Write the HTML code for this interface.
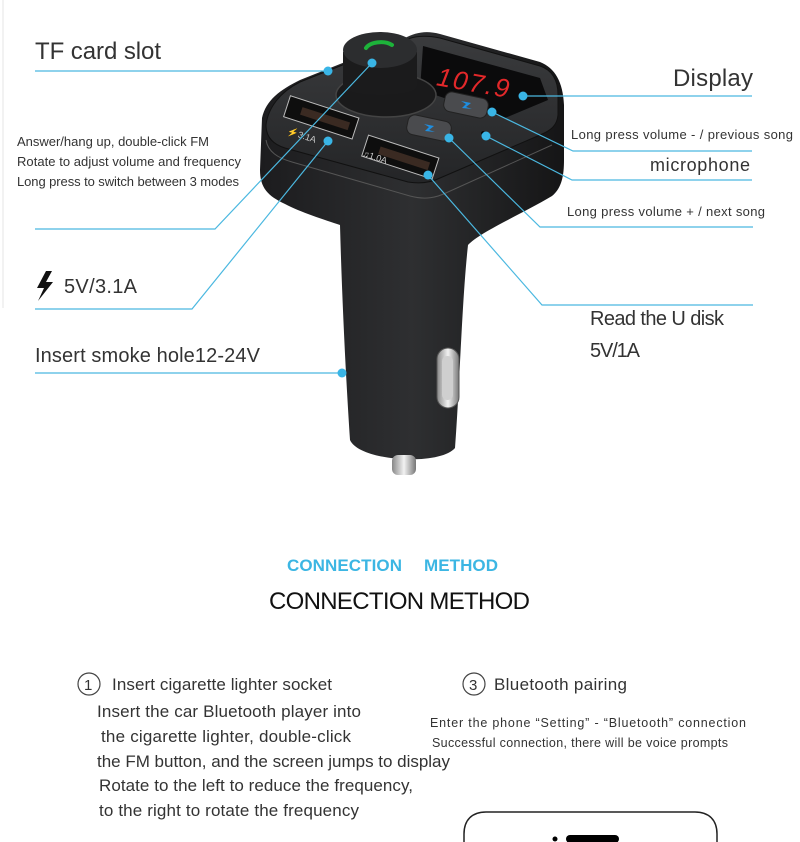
<!DOCTYPE html>
<html><head><meta charset="utf-8"><style>
html,body{margin:0;padding:0;background:#fff;width:800px;height:842px;overflow:hidden}
svg{display:block}
.t{font-family:"Liberation Sans",sans-serif;fill:#333}
</style></head><body>
<svg width="800" height="842" viewBox="0 0 800 842" xmlns="http://www.w3.org/2000/svg">
<defs>
<linearGradient id="bd" x1="0" y1="0" x2="1" y2="0">
<stop offset="0" stop-color="#1c1c1e"/><stop offset="0.5" stop-color="#2e2f31"/><stop offset="1" stop-color="#151516"/>
</linearGradient>
<linearGradient id="top" x1="0" y1="0" x2="0" y2="1">
<stop offset="0" stop-color="#3a3b3d"/><stop offset="1" stop-color="#242527"/>
</linearGradient>
<linearGradient id="pin" x1="0" y1="0" x2="1" y2="0">
<stop offset="0" stop-color="#888"/><stop offset="0.5" stop-color="#f2f2f2"/><stop offset="1" stop-color="#777"/>
</linearGradient>
</defs>
<line x1="3" y1="0" x2="3" y2="308" stroke="#e6e6e6" stroke-width="1"/>
<!-- body -->
<path d="M340 225 C342 300 346 380 350 440 C360 462 440 466 455 448 C460 380 462 300 468 245 C480 232 520 215 552 196 C562 188 564 175 564 160 L564 105 C563 82 555 68 540 62 L440 34 C425 30 415 33 405 38 L300 80 C280 90 266 100 262 118 L260 170 C260 188 268 196 285 204 C300 212 325 220 340 225 Z" fill="url(#bd)"/>
<!-- top surface -->
<path d="M300 82 L405 40 C415 36 425 35 440 38 L540 66 C552 70 558 80 558 95 L558 115 C557 125 552 130 540 135 L440 178 C430 183 420 184 408 182 L285 148 C272 144 266 136 266 125 C268 108 280 92 300 82 Z" fill="url(#top)" stroke="#111" stroke-width="1"/>
<!-- front face highlight edge -->
<path d="M266 140 C268 152 278 158 292 162 L410 196 C425 200 436 198 448 192 L552 145" fill="none" stroke="#555" stroke-width="1"/>
<!-- display -->
<path d="M423 46 L540 78 L548 100 L505 118 L420 90 Z" fill="#0b0b0c"/>
<text x="437" y="91" font-family="Liberation Sans" font-size="26" font-style="italic" fill="#e2282a" transform="rotate(10 470 80)" letter-spacing="2">107.9</text>
<!-- knob base ring -->
<ellipse cx="386" cy="95" rx="50" ry="22" fill="#1a1a1b" stroke="#444" stroke-width="1.5"/>
<!-- knob -->
<path d="M343 52 L343 86 C343 98 417 98 417 86 L417 52 Z" fill="#1b1b1c"/>
<ellipse cx="380" cy="50" rx="37" ry="18" fill="#2c2d2f"/>
<path d="M366 48 C370 42 384 40 392 45" stroke="#1db33a" stroke-width="4" fill="none" stroke-linecap="round"/>
<!-- buttons -->
<rect x="444" y="95" width="44" height="20" rx="7" fill="#4a4b4e" stroke="#222" transform="rotate(12 466 105)"/>
<path d="M461 101 L471 103 L466 107 L472 109 L462 108 L466 104 Z" fill="#1e8ee0"/>
<rect x="407" y="118" width="44" height="20" rx="7" fill="#4a4b4e" stroke="#222" transform="rotate(12 429 128)"/>
<path d="M424 124 L434 126 L429 130 L435 132 L425 131 L429 127 Z" fill="#1e8ee0"/>
<circle cx="483" cy="133" r="1.8" fill="#000"/>
<!-- usb ports -->
<g transform="rotate(18 320 118)"><rect x="285" y="106" width="72" height="22" fill="#0e0e0e" stroke="#bbb" stroke-width="1"/><rect x="300" y="113" width="50" height="8" fill="#3a2a22"/></g>
<g transform="rotate(18 400 158)"><rect x="363" y="146" width="74" height="22" fill="#0e0e0e" stroke="#bbb" stroke-width="1"/><rect x="378" y="153" width="52" height="8" fill="#3a2a22"/></g>
<text x="286" y="138" font-family="Liberation Sans" font-size="9" fill="#ccc" transform="rotate(18 300 138)">⚡3.1A</text>
<text x="360" y="162" font-family="Liberation Sans" font-size="9" fill="#ccc" transform="rotate(18 380 165)">♫1.0A</text>
<!-- side contact -->
<rect x="437" y="348" width="22" height="60" rx="11" fill="url(#pin)" stroke="#555"/>
<rect x="442" y="356" width="11" height="44" rx="5" fill="#cfcfcf"/>
<!-- tip pin -->
<rect x="392" y="455" width="24" height="20" rx="6" fill="url(#pin)"/>
<!-- connector lines -->
<g stroke="#4bb8e0" stroke-width="1.2" fill="none">
<polyline points="35,71 320,71 328,71"/>
<polyline points="35,229 215,229 372,63"/>
<polyline points="35,309 192,309 328,141"/>
<polyline points="35,373 342,373"/>
<polyline points="523,96 752,96"/>
<polyline points="492,112 573,151 752,151"/>
<polyline points="486,136 572,180 752,180"/>
<polyline points="449,138 540,227 753,227"/>
<polyline points="428,175 542,305 753,305"/>
</g>
<g fill="#39b5e6">
<circle cx="328" cy="71" r="4.5"/><circle cx="372" cy="63" r="4.5"/><circle cx="328" cy="141" r="4.5"/>
<circle cx="342" cy="373" r="4.5"/><circle cx="523" cy="96" r="4.5"/><circle cx="492" cy="112" r="4.5"/>
<circle cx="486" cy="136" r="4.5"/><circle cx="449" cy="138" r="4.5"/><circle cx="428" cy="175" r="4.5"/>
</g>
<!-- labels -->
<text class="t" x="35" y="59" font-size="24" textLength="126">TF card slot</text>
<text class="t" x="17" y="146" font-size="13" fill="#555" textLength="192">Answer/hang up, double-click FM</text>
<text class="t" x="17" y="166" font-size="13" fill="#555" textLength="224">Rotate to adjust volume and frequency</text>
<text class="t" x="17" y="186" font-size="13" fill="#555" textLength="222">Long press to switch between 3 modes</text>
<path d="M46 271 L37 288 L44 288 L38 301 L53 282 L46 282 L52 271 Z" fill="#111"/>
<text class="t" x="64" y="293" font-size="20" fill="#111" textLength="73">5V/3.1A</text>
<text class="t" x="35" y="362" font-size="20" textLength="225">Insert smoke hole12-24V</text>
<text class="t" x="673" y="86" font-size="24" textLength="80">Display</text>
<text class="t" x="571" y="139" font-size="13" fill="#444" textLength="222">Long press volume - / previous song</text>
<text class="t" x="650" y="171" font-size="18" textLength="100">microphone</text>
<text class="t" x="567" y="216" font-size="13" fill="#444" textLength="198">Long press volume + / next song</text>
<text class="t" x="590" y="325" font-size="20" textLength="134">Read the U disk</text>
<text class="t" x="590" y="357" font-size="20" textLength="50">5V/1A</text>
<!-- connection method -->
<text x="287" y="571" font-family="Liberation Sans" font-weight="bold" font-size="17" fill="#3cb6e3" textLength="115">CONNECTION</text>
<text x="424" y="571" font-family="Liberation Sans" font-weight="bold" font-size="17" fill="#3cb6e3" textLength="74">METHOD</text>
<text x="269" y="609" font-family="Liberation Sans" font-size="24" fill="#111" textLength="261">CONNECTION METHOD</text>
<circle cx="89" cy="684" r="11" fill="none" stroke="#444" stroke-width="1.2"/>
<text class="t" x="84" y="690" font-size="15">1</text>
<text class="t" x="112" y="690" font-size="17" textLength="220">Insert cigarette lighter socket</text>
<text class="t" x="97" y="717" font-size="17" textLength="264">Insert the car Bluetooth player into</text>
<text class="t" x="101" y="742" font-size="17" textLength="250">the cigarette lighter, double-click</text>
<text class="t" x="97" y="767" font-size="17" textLength="353">the FM button, and the screen jumps to display</text>
<text class="t" x="99" y="791" font-size="17" textLength="314">Rotate to the left to reduce the frequency,</text>
<text class="t" x="99" y="816" font-size="17" textLength="260">to the right to rotate the frequency</text>
<circle cx="474" cy="684" r="11" fill="none" stroke="#444" stroke-width="1.2"/>
<text class="t" x="469" y="690" font-size="15">3</text>
<text class="t" x="494" y="690" font-size="17" textLength="133">Bluetooth pairing</text>
<text class="t" x="430" y="727" font-size="12.5" fill="#444" textLength="316">Enter the phone “Setting” - “Bluetooth” connection</text>
<text class="t" x="432" y="747" font-size="12.5" fill="#444" textLength="296">Successful connection, there will be voice prompts</text>
<!-- phone -->
<path d="M464 850 L464 834 C464 820 472 812 486 812 L695 812 C709 812 717 820 717 834 L717 850" fill="none" stroke="#222" stroke-width="1.5"/>
<circle cx="555" cy="839" r="2.5" fill="#000"/>
<rect x="566" y="835" width="53" height="8" rx="4" fill="#000"/>
</svg>
</body></html>
